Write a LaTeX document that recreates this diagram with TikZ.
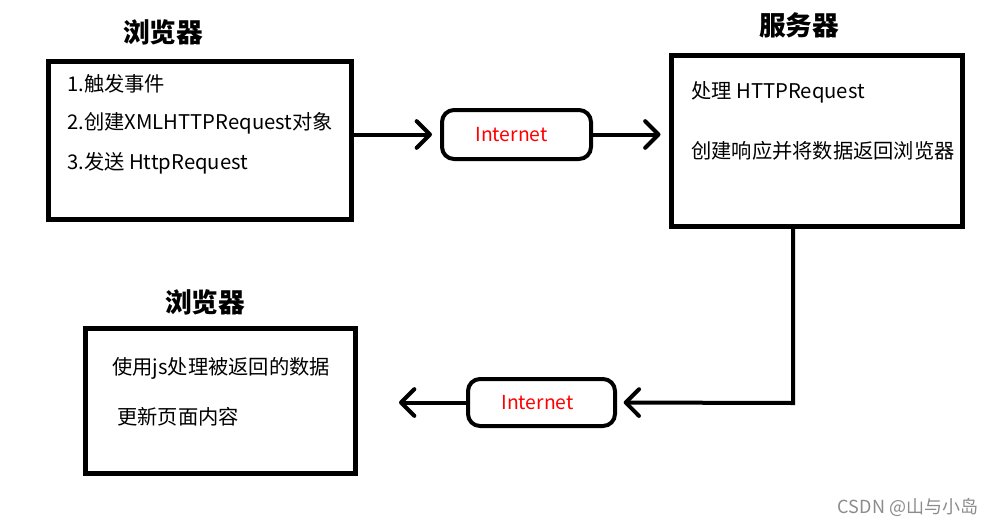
\documentclass[tikz,border=0pt]{standalone}
\usepackage{fontspec}
\setmainfont{Noto Sans CJK SC}
\usetikzlibrary{arrows.meta}
\begin{document}
\begin{tikzpicture}[x=0.75pt,y=-0.75pt,
  box/.style={draw, line width=3.75pt, rectangle, inner sep=0pt},
  netbox/.style={draw, line width=3pt, rounded corners=9pt, inner sep=0pt, text=red,
    font=\fontsize{14.5}{16}\selectfont},
  title/.style={inner sep=0pt, font=\fontsize{20}{24}\selectfont\bfseries},
  txt/.style={anchor=west, inner sep=0pt, font=\fontsize{15.2}{18}\selectfont},
  conn/.style={line width=3pt, -{Straight Barb[length=10pt,width=20pt,round]}, line cap=round, line join=round}]
\useasboundingbox (0,0) rectangle (999,525);
\fill[white] (0,0) rectangle (999,525);

% titles
\node[title] (t1) at (163,32) {浏览器};
\node[title] (t2) at (799,25) {服务器};
\node[title] (t3) at (205,302) {浏览器};

% boxes
\node[box, minimum width=227.25pt, minimum height=118.5pt] (b1) at (199.5,140) {};
\node[box, minimum width=218.25pt, minimum height=128.25pt] (srv) at (816.5,140.5) {};
\node[box, minimum width=202.5pt, minimum height=108.75pt] (b2) at (220,400.5) {};

% internet boxes
\node[netbox, minimum width=111.75pt, minimum height=36.75pt] (n1) at (516.5,134.5) {Internet\hspace*{7.5pt}};
\node[netbox, minimum width=110.25pt, minimum height=35.25pt] (n2) at (541.5,402.5) {Internet\hspace*{6pt}};

% box texts
\node[txt] (a1) at (67,84) {1.触发事件};
\node[txt] (a2) at (67,123) {2.创建XMLHTTPRequest对象};
\node[txt] (a3) at (67,163) {3.发送 HttpRequest};
\node[txt] (s1) at (691,92) {处理 HTTPRequest};
\node[txt] (s2) at (691,151) {创建响应并将数据返回浏览器};
\node[txt] (c1) at (112,368) {使用js处理被返回的数据};
\node[txt] (c2) at (117,417) {更新页面内容};

% connectors
\coordinate (turn) at (793,403);
\coordinate (tip) at (399,402.5);
\draw[conn, shorten >=6pt] (b1.east |- n1) -- (n1.west);
\draw[conn, shorten >=6pt] (n1.east) -- (srv.west |- n1);
\draw[conn, shorten >=5pt, line join=miter] (srv.south -| turn) -- (turn) -- (n2.east);
\draw[conn] (n2.west) -- (tip);

% watermark
\node[inner sep=0pt, text=black!45, font=\fontsize{13.5}{15}\selectfont] (wm) at (908,507) {CSDN @山与小岛};
\end{tikzpicture}
\end{document}
